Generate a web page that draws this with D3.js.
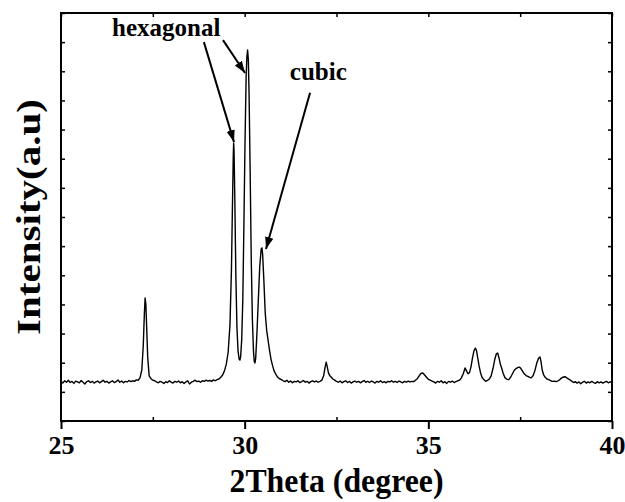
<!DOCTYPE html>
<html>
<head>
<meta charset="utf-8">
<script src="https://cdn.jsdelivr.net/npm/d3@7"></script>
<style>
  body { margin: 0; background: #fff; }
  text { font-family: "Liberation Serif", "Times New Roman", serif; font-weight: bold; }
</style>
</head>
<body>
<div id="chart"></div>
<script>
// XRD pattern as [2theta, intensity (a.u.)]
const pattern = [
  [25.00,1.36],[25.05,1.30],[25.10,1.38],[25.15,1.33],[25.20,1.40],[25.25,1.32],[25.30,1.36],[25.35,1.29],
  [25.40,1.37],[25.45,1.34],[25.50,1.31],[25.55,1.39],[25.60,1.33],[25.65,1.27],[25.70,1.35],[25.75,1.38],
  [25.80,1.32],[25.85,1.36],[25.90,1.30],[25.95,1.34],[26.00,1.37],[26.05,1.31],[26.10,1.35],[26.15,1.40],
  [26.20,1.33],[26.25,1.36],[26.30,1.30],[26.35,1.34],[26.40,1.38],[26.45,1.32],[26.50,1.35],[26.55,1.41],
  [26.60,1.33],[26.65,1.37],[26.70,1.31],[26.75,1.36],[26.80,1.34],[26.85,1.39],[26.90,1.35],[26.95,1.38],
  [27.00,1.36],[27.05,1.41],[27.10,1.40],[27.15,1.48],[27.20,1.75],[27.24,2.60],[27.27,3.70],[27.29,4.22],
  [27.31,4.00],[27.33,3.30],[27.36,2.20],[27.40,1.55],[27.45,1.45],[27.50,1.40],[27.55,1.38],[27.60,1.34],
  [27.65,1.31],[27.70,1.36],[27.75,1.33],[27.80,1.29],[27.85,1.35],[27.90,1.32],[27.95,1.38],[28.00,1.33],
  [28.05,1.30],[28.10,1.36],[28.15,1.33],[28.20,1.37],[28.25,1.31],[28.30,1.35],[28.35,1.29],[28.40,1.34],
  [28.45,1.38],[28.50,1.27],[28.55,1.33],[28.60,1.36],[28.65,1.40],[28.70,1.35],[28.75,1.37],[28.80,1.33],
  [28.85,1.38],[28.90,1.36],[28.95,1.40],[29.00,1.37],[29.05,1.39],[29.10,1.36],[29.15,1.41],[29.20,1.38],
  [29.25,1.42],[29.30,1.44],[29.35,1.50],[29.40,1.58],[29.45,1.72],[29.50,1.95],[29.55,2.35],[29.60,3.30],
  [29.64,5.20],[29.67,7.60],[29.69,9.10],[29.70,9.54],[29.71,9.30],[29.73,7.80],[29.76,5.00],[29.79,3.20],
  [29.82,2.40],[29.85,2.12],[29.87,2.09],[29.89,2.20],[29.92,2.80],[29.95,4.20],[29.98,6.80],[30.01,9.60],
  [30.04,11.80],[30.06,12.50],[30.08,12.73],[30.10,12.40],[30.12,11.20],[30.15,8.50],[30.18,5.50],[30.21,3.50],
  [30.24,2.40],[30.26,2.05],[30.28,1.99],[30.30,2.15],[30.33,2.90],[30.37,4.10],[30.41,5.30],[30.45,5.90],
  [30.47,5.94],[30.49,5.70],[30.52,4.90],[30.56,3.70],[30.60,3.10],[30.64,2.75],[30.68,2.40],[30.72,2.10],
  [30.76,1.90],[30.80,1.72],[30.85,1.60],[30.90,1.50],[30.95,1.45],[31.00,1.42],[31.05,1.38],[31.10,1.35],
  [31.15,1.40],[31.20,1.33],[31.25,1.37],[31.30,1.31],[31.35,1.36],[31.40,1.34],[31.45,1.38],[31.50,1.32],
  [31.55,1.35],[31.60,1.39],[31.65,1.33],[31.70,1.36],[31.75,1.30],[31.80,1.35],[31.85,1.38],[31.90,1.34],
  [31.95,1.37],[32.00,1.33],[32.05,1.36],[32.10,1.40],[32.15,1.55],[32.19,1.85],[32.22,2.02],[32.25,1.85],
  [32.28,1.65],[32.32,1.55],[32.36,1.50],[32.40,1.44],[32.45,1.40],[32.50,1.36],[32.55,1.33],[32.60,1.37],
  [32.65,1.31],[32.70,1.35],[32.75,1.38],[32.80,1.32],[32.85,1.36],[32.90,1.30],[32.95,1.34],[33.00,1.37],
  [33.05,1.33],[33.10,1.36],[33.15,1.31],[33.20,1.35],[33.25,1.39],[33.30,1.33],[33.35,1.36],[33.40,1.32],
  [33.45,1.37],[33.50,1.34],[33.55,1.30],[33.60,1.36],[33.65,1.33],[33.70,1.38],[33.75,1.32],[33.80,1.35],
  [33.85,1.31],[33.90,1.36],[33.95,1.34],[34.00,1.38],[34.05,1.33],[34.10,1.36],[34.15,1.32],[34.20,1.37],
  [34.25,1.34],[34.30,1.31],[34.35,1.36],[34.40,1.33],[34.45,1.37],[34.50,1.34],[34.55,1.36],[34.60,1.35],
  [34.65,1.40],[34.70,1.45],[34.75,1.55],[34.80,1.63],[34.85,1.65],[34.90,1.58],[34.95,1.50],[35.00,1.43],
  [35.05,1.40],[35.10,1.37],[35.15,1.34],[35.20,1.30],[35.25,1.36],[35.30,1.33],[35.35,1.38],[35.40,1.31],
  [35.45,1.35],[35.50,1.29],[35.55,1.36],[35.60,1.33],[35.65,1.37],[35.70,1.32],[35.75,1.35],[35.80,1.38],
  [35.85,1.40],[35.90,1.48],[35.95,1.62],[36.00,1.82],[36.04,1.72],[36.08,1.62],[36.12,1.66],[36.16,1.85],
  [36.20,2.15],[36.24,2.40],[36.28,2.50],[36.31,2.42],[36.34,2.20],[36.38,1.90],[36.42,1.66],[36.46,1.50],
  [36.51,1.42],[36.56,1.36],[36.61,1.39],[36.66,1.44],[36.71,1.55],[36.76,1.80],[36.81,2.12],[36.85,2.30],
  [36.89,2.33],[36.92,2.18],[36.96,1.95],[37.00,1.80],[37.04,1.62],[37.09,1.48],[37.14,1.43],[37.19,1.42],
  [37.24,1.50],[37.29,1.62],[37.34,1.74],[37.39,1.80],[37.44,1.84],[37.48,1.85],[37.52,1.80],[37.56,1.72],
  [37.61,1.62],[37.66,1.56],[37.71,1.53],[37.76,1.50],[37.80,1.48],[37.85,1.55],[37.90,1.72],[37.95,1.98],
  [38.00,2.15],[38.04,2.20],[38.07,2.02],[38.10,1.75],[38.14,1.58],[38.18,1.50],[38.23,1.44],[38.28,1.42],
  [38.33,1.38],[38.38,1.36],[38.43,1.37],[38.48,1.35],[38.53,1.38],[38.58,1.42],[38.63,1.48],[38.68,1.51],
  [38.72,1.52],[38.77,1.48],[38.82,1.44],[38.87,1.40],[38.92,1.35],[38.97,1.32],[39.00,1.35],[39.05,1.30],
  [39.10,1.34],[39.15,1.28],[39.20,1.33],[39.25,1.36],[39.30,1.30],[39.35,1.34],[39.40,1.31],[39.45,1.36],
  [39.50,1.32],[39.55,1.29],[39.60,1.35],[39.65,1.31],[39.70,1.34],[39.75,1.30],[39.80,1.33],[39.85,1.36],
  [39.90,1.31],[39.95,1.34],[40.00,1.33]
];

const xMajorTicks = [25, 30, 35, 40];
const xMinorTicks = [27.5, 32.5, 37.5];
const xTopTicks = [25, 27.5, 30, 32.5, 35, 37.5, 40];
const yTicks = [0, 1, 2, 3, 4, 5, 6, 7, 8, 9, 10, 11, 12, 13, 14];

// peak labels and arrows: [from 2theta, from I, to 2theta, to I]
const labels = [
  { text: "hexagonal", at: [26.39, 13.21] },
  { text: "cubic", at: [31.23, 11.70] }
];
const arrows = [
  [28.89, 13.00, 29.71, 9.57],
  [29.41, 13.07, 30.01, 11.94],
  [31.78, 11.26, 30.58, 5.90]
];

const width = 625, height = 502;
const margin = { top: 13, right: 13, bottom: 81, left: 61 };

const svg = d3.select("#chart").append("svg")
  .attr("width", width)
  .attr("height", height);

const x = d3.scaleLinear().domain([25, 40]).range([margin.left, width - margin.right]);
const y = d3.scaleLinear().domain([0, 14]).range([height - margin.bottom, margin.top]);

// arrow head
svg.append("defs").append("marker")
  .attr("id", "head")
  .attr("viewBox", "0 0 10 10")
  .attr("refX", 10).attr("refY", 5)
  .attr("markerWidth", 6).attr("markerHeight", 6)
  .attr("markerUnits", "strokeWidth")
  .attr("orient", "auto")
  .append("path")
  .attr("d", "M0,1.5 L10,5 L0,8.5 Z")
  .attr("fill", "#000");

// curve
const line = d3.line().x(d => x(d[0])).y(d => y(d[1]));
svg.append("path")
  .datum(pattern)
  .attr("d", line)
  .attr("fill", "none")
  .attr("stroke", "#000")
  .attr("stroke-width", 1.4)
  .attr("stroke-linejoin", "round");

// axes
const hideDomain = g => g.select(".domain").remove();

svg.append("g")
  .attr("transform", `translate(0,${y(0)})`)
  .call(d3.axisBottom(x).tickValues(xMajorTicks).tickSize(8).tickPadding(7).tickFormat(d3.format("d")))
  .call(hideDomain)
  .call(g => g.selectAll("line").attr("stroke-width", 2))
  .call(g => g.selectAll("text")
    .attr("font-size", 26).attr("font-family", "Liberation Serif").attr("font-weight", "bold").attr("fill", "#000"));

svg.append("g")
  .attr("transform", `translate(0,${y(0)})`)
  .call(d3.axisBottom(x).tickValues(xMinorTicks).tickSize(-4).tickFormat(""))
  .call(hideDomain)
  .call(g => g.selectAll("line").attr("stroke-width", 1.5));

svg.append("g")
  .attr("transform", `translate(0,${y(14)})`)
  .call(d3.axisTop(x).tickValues(xTopTicks).tickSize(-4).tickFormat(""))
  .call(hideDomain)
  .call(g => g.selectAll("line").attr("stroke-width", 1.5));

svg.append("g")
  .attr("transform", `translate(${x(25)},0)`)
  .call(d3.axisLeft(y).tickValues(yTicks).tickSize(-4).tickFormat(""))
  .call(hideDomain)
  .call(g => g.selectAll("line").attr("stroke-width", 1.5));

svg.append("g")
  .attr("transform", `translate(${x(40)},0)`)
  .call(d3.axisRight(y).tickValues(yTicks).tickSize(-4).tickFormat(""))
  .call(hideDomain)
  .call(g => g.selectAll("line").attr("stroke-width", 1.5));

// frame
svg.append("rect")
  .attr("x", x(25)).attr("y", y(14))
  .attr("width", x(40) - x(25)).attr("height", y(0) - y(14))
  .attr("fill", "none")
  .attr("stroke", "#000")
  .attr("stroke-width", 2);

// axis titles
svg.append("text")
  .attr("x", (x(25) + x(40)) / 2)
  .attr("y", 492)
  .attr("text-anchor", "middle")
  .attr("font-size", 33)
  .attr("textLength", 214)
  .attr("lengthAdjust", "spacingAndGlyphs")
  .text("2Theta (degree)");

svg.append("text")
  .attr("transform", `translate(40,${(y(0) + y(14)) / 2}) rotate(-90)`)
  .attr("text-anchor", "middle")
  .attr("font-size", 34)
  .attr("textLength", 236)
  .attr("lengthAdjust", "spacingAndGlyphs")
  .text("Intensity(a.u)");

// annotations
svg.selectAll(".peak-label")
  .data(labels)
  .join("text")
  .attr("class", "peak-label")
  .attr("x", d => x(d.at[0]))
  .attr("y", d => y(d.at[1]))
  .attr("font-size", 25)
  .text(d => d.text);

svg.selectAll(".arrow")
  .data(arrows)
  .join("line")
  .attr("class", "arrow")
  .attr("x1", d => x(d[0])).attr("y1", d => y(d[1]))
  .attr("x2", d => x(d[2])).attr("y2", d => y(d[3]))
  .attr("stroke", "#000")
  .attr("stroke-width", 2)
  .attr("marker-end", "url(#head)");
</script>
</body>
</html>
